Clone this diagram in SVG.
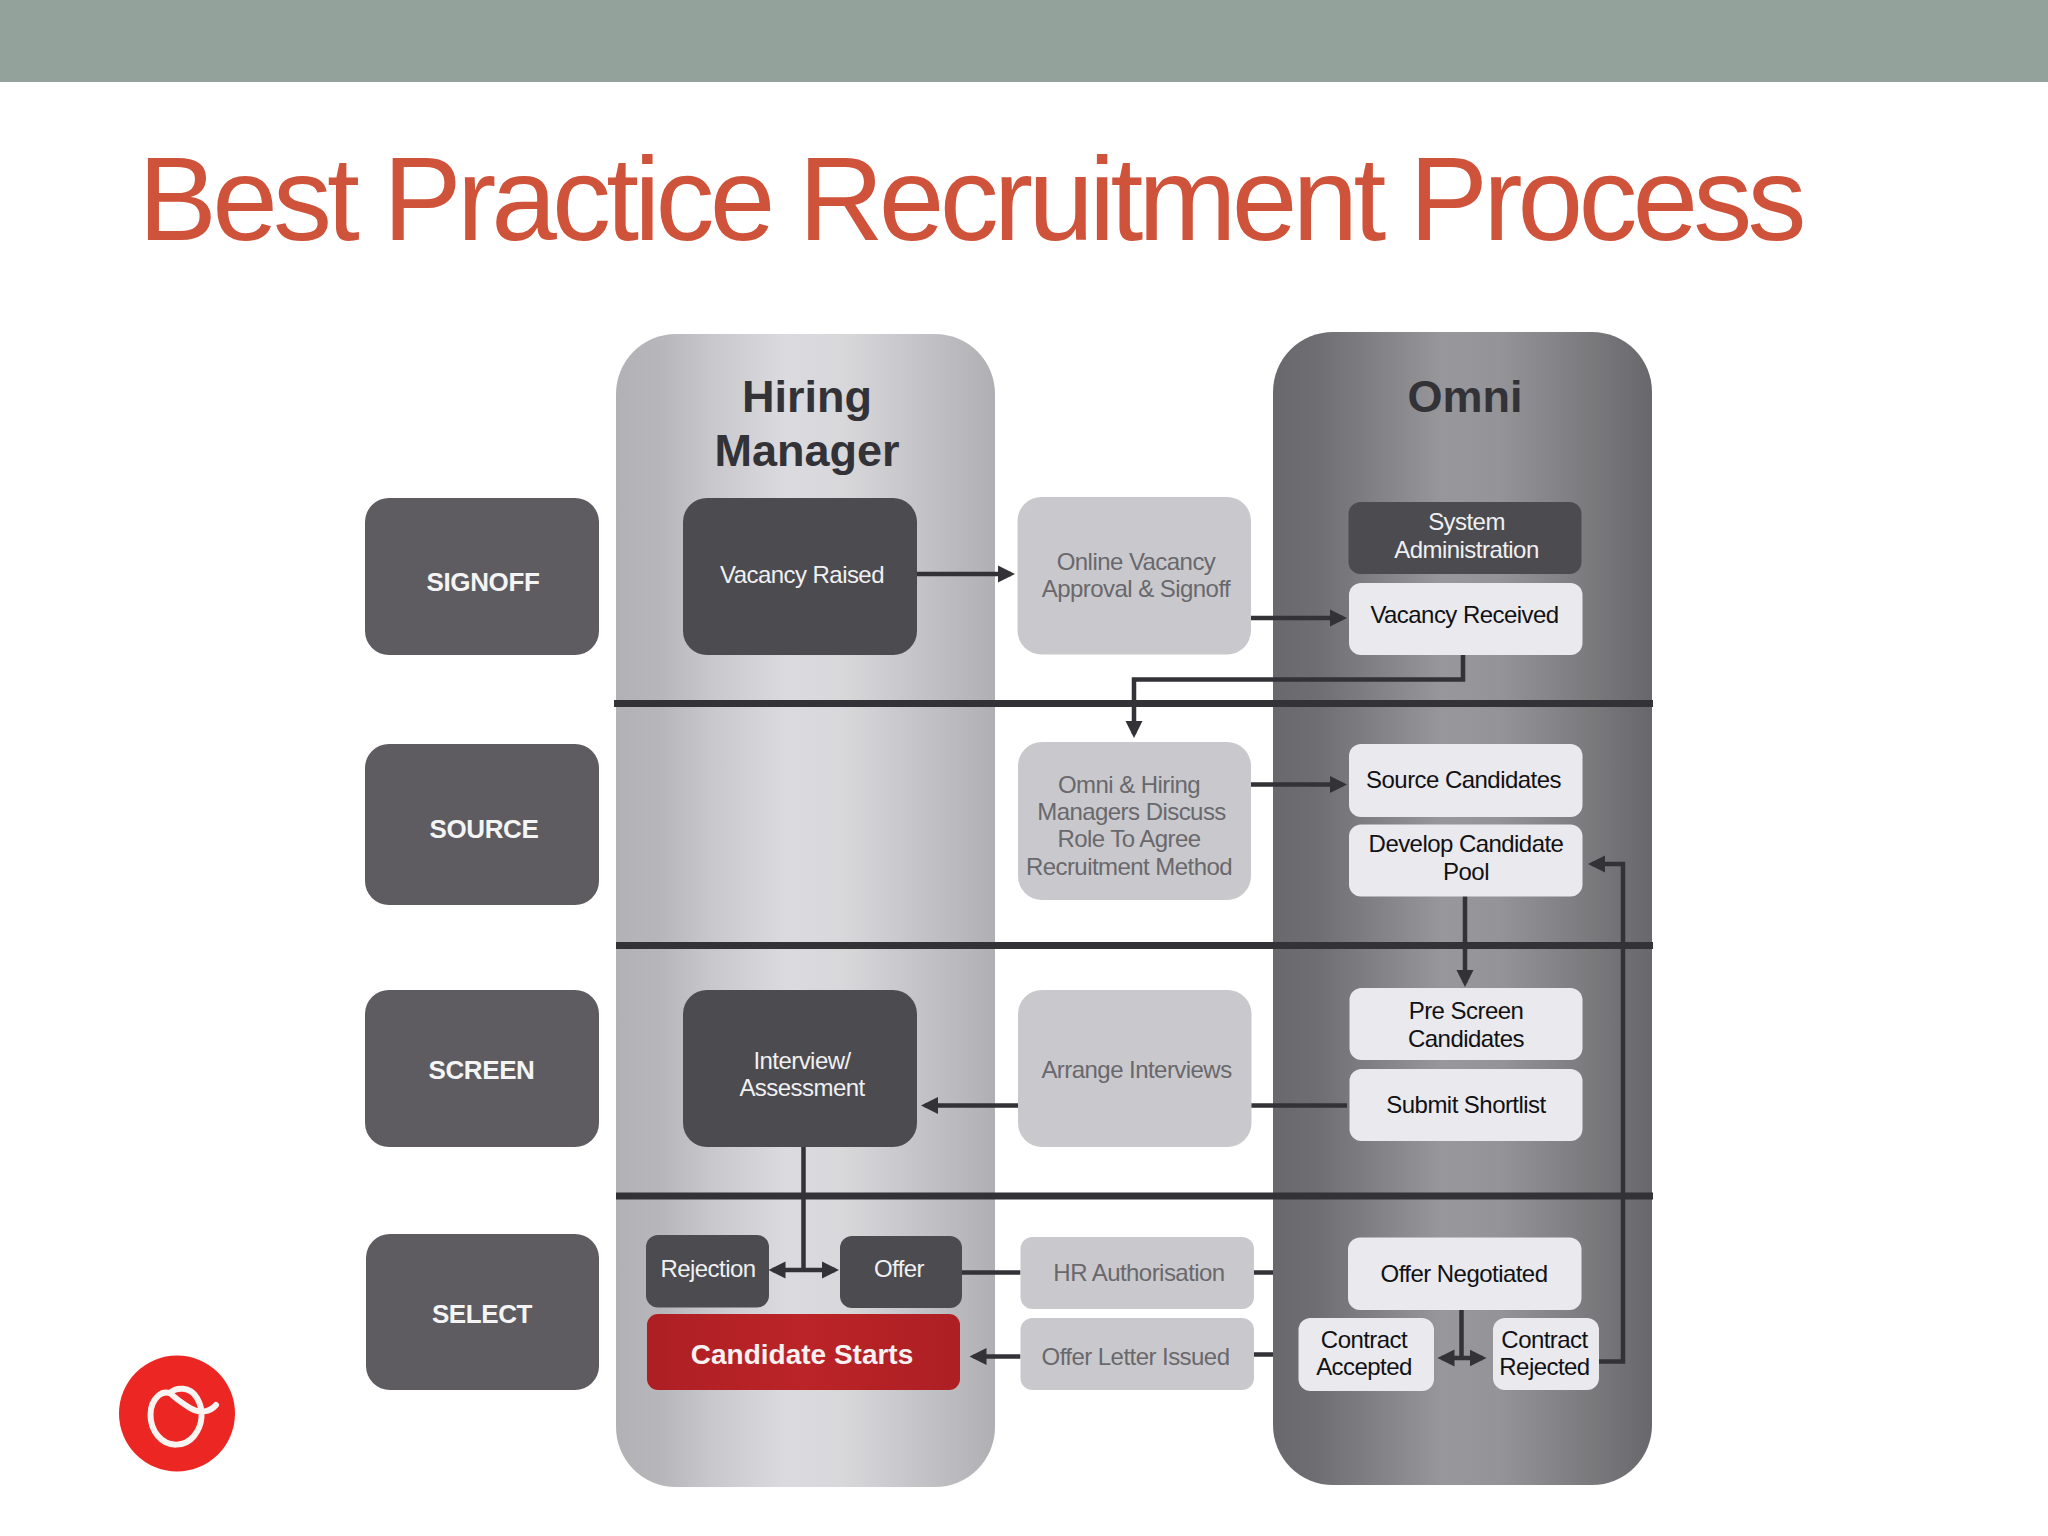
<svg xmlns="http://www.w3.org/2000/svg" width="2048" height="1536" viewBox="0 0 2048 1536">
<style>
text{font-family:"Liberation Sans",Arial,sans-serif;text-anchor:middle}
.stage rect{fill:#5e5c60}
.stage text{fill:#f4f4f5;font-size:26px;font-weight:700;letter-spacing:-.4px}
.dark rect{fill:#4c4b4f}
.dark text{fill:#f0f0f2;font-size:24px;letter-spacing:-.55px}
.mid rect{fill:#c9c8cc}
.mid text{fill:#69686c;font-size:24px;letter-spacing:-.55px}
.lite rect{fill:#eae9ed}
.lite text{fill:#111114;font-size:24px;letter-spacing:-.55px}
.head{fill:#333237;font-size:45px;font-weight:700}
.sep{stroke:#333237;stroke-width:7;fill:none}
#connectors path{stroke:#333237;stroke-width:4.5;fill:none}
</style>
<defs>
<linearGradient id="gLight" x1="0" x2="1" y1="0" y2="0">
<stop offset="0" stop-color="#b2b1b5"/><stop offset=".12" stop-color="#b7b6ba"/><stop offset=".25" stop-color="#c8c7cb"/><stop offset=".45" stop-color="#dbdade"/><stop offset=".6" stop-color="#d8d7da"/><stop offset=".85" stop-color="#bfbec2"/><stop offset="1" stop-color="#b0afb3"/>
</linearGradient>
<linearGradient id="gDark" x1="0" x2="1" y1="0" y2="0">
<stop offset="0" stop-color="#69686c"/><stop offset=".12" stop-color="#6f6e72"/><stop offset=".3" stop-color="#858488"/><stop offset=".45" stop-color="#98979b"/><stop offset=".6" stop-color="#949397"/><stop offset=".85" stop-color="#79787b"/><stop offset="1" stop-color="#68676b"/>
</linearGradient>
<linearGradient id="gRed" x1="0" x2="1" y1="0" y2="0">
<stop offset="0" stop-color="#ad1f23"/><stop offset=".5" stop-color="#bb2428"/><stop offset="1" stop-color="#ad1f23"/>
</linearGradient>
<marker id="ah" markerUnits="userSpaceOnUse" markerWidth="18" markerHeight="18" refX="13" refY="9" orient="auto-start-reverse"><path d="M0 0.500L17 9L0 17.500Z" style="fill:#333237;stroke:none"/></marker>
</defs>
<rect id="topbar" x="0" y="0" width="2048" height="82" fill="#93a29a"/>
<text id="title" x="970" y="240" font-size="118" fill="#cf523a" style="letter-spacing:-4.84px">Best Practice Recruitment Process</text>

<g id="column-hiring"><rect x="616" y="334" width="379" height="1153" rx="60" fill="url(#gLight)"/>
<text class="head" x="807" y="412">Hiring</text><text class="head" x="807" y="466">Manager</text></g>
<g id="column-omni"><rect x="1273" y="332" width="379" height="1153" rx="60" fill="url(#gDark)"/>
<text class="head" x="1465" y="412">Omni</text></g>

<g id="separators">
<path class="sep" d="M614 703.500H1653"/><path class="sep" d="M616 945.500H1653"/><path class="sep" d="M616 1196H1653"/>
</g>

<g id="connectors">
<path d="M917 574H1011" marker-end="url(#ah)"/>
<path d="M1251 618H1343" marker-end="url(#ah)"/>
<path d="M1463 655V679.500H1134V734" marker-end="url(#ah)"/>
<path d="M1251 784.500H1343" marker-end="url(#ah)"/>
<path d="M1465 896V983" marker-end="url(#ah)"/>
<path d="M1597 1361.500H1623V864H1592" marker-end="url(#ah)"/>
<path d="M1347 1105.500H1251"/>
<path d="M1018 1105.500H925" marker-end="url(#ah)"/>
<path d="M803.500 1147V1270"/>
<path d="M772.500 1270H835" marker-start="url(#ah)" marker-end="url(#ah)"/>
<path d="M962 1272.500H1020.500"/>
<path d="M1254 1272.500H1273"/>
<path d="M1020.500 1356.500H973.500" marker-end="url(#ah)"/>
<path d="M1254 1354.500H1273"/>
<path d="M1461.500 1310V1358"/>
<path d="M1441.500 1358H1482.500" marker-start="url(#ah)" marker-end="url(#ah)"/>
</g>

<g id="stage-signoff" class="stage"><rect x="365" y="498" width="234" height="157" rx="24"/><text x="483" y="591">SIGNOFF</text></g>
<g id="stage-source" class="stage"><rect x="365" y="744" width="234" height="161" rx="24"/><text x="484" y="838">SOURCE</text></g>
<g id="stage-screen" class="stage"><rect x="365" y="990" width="234" height="157" rx="24"/><text x="481.500" y="1079">SCREEN</text></g>
<g id="stage-select" class="stage"><rect x="366" y="1234" width="233" height="156" rx="24"/><text x="482" y="1322.500">SELECT</text></g>

<g id="vacancy-raised" class="dark"><rect x="683" y="498" width="234" height="157" rx="24"/><text x="802" y="583">Vacancy Raised</text></g>
<g id="interview" class="dark"><rect x="683" y="990" width="234" height="157" rx="24"/><text x="802" y="1069">Interview/</text><text x="802" y="1096">Assessment</text></g>
<g id="rejection" class="dark"><rect x="646" y="1235" width="123" height="72.500" rx="12"/><text x="708" y="1277">Rejection</text></g>
<g id="offer" class="dark"><rect x="840" y="1236" width="122" height="72" rx="12"/><text x="899" y="1277">Offer</text></g>
<g id="candidate-starts"><rect x="647" y="1314" width="313" height="76" rx="11" fill="url(#gRed)"/><text x="802" y="1364" font-size="28" font-weight="700" fill="#f7f1f1">Candidate Starts</text></g>

<g id="online-vacancy" class="mid"><rect x="1017.500" y="497" width="233.500" height="157.500" rx="24"/><text x="1136" y="570">Online Vacancy</text><text x="1136" y="597">Approval &amp; Signoff</text></g>
<g id="omni-hiring-discuss" class="mid"><rect x="1018" y="742" width="233" height="158" rx="24"/><text x="1129" y="793">Omni &amp; Hiring</text><text x="1131.500" y="820">Managers Discuss</text><text x="1129" y="847">Role To Agree</text><text x="1129" y="875">Recruitment Method</text></g>
<g id="arrange-interviews" class="mid"><rect x="1018" y="990" width="233.500" height="157" rx="24"/><text x="1136.500" y="1077.500">Arrange Interviews</text></g>
<g id="hr-authorisation" class="mid"><rect x="1020.500" y="1237" width="233.500" height="72" rx="12"/><text x="1139" y="1281">HR Authorisation</text></g>
<g id="offer-letter" class="mid"><rect x="1020.500" y="1318" width="233.500" height="72" rx="12"/><text x="1135.500" y="1365">Offer Letter Issued</text></g>

<g id="system-administration" class="dark"><rect x="1348.500" y="502" width="233" height="72" rx="12"/><text x="1466.500" y="530">System</text><text x="1466.500" y="557.500">Administration</text></g>
<g id="vacancy-received" class="lite"><rect x="1349" y="583" width="233.500" height="72" rx="12"/><text x="1464.500" y="622.500">Vacancy Received</text></g>
<g id="source-candidates" class="lite"><rect x="1349" y="744" width="233.500" height="73" rx="12"/><text x="1463.500" y="788">Source Candidates</text></g>
<g id="develop-pool" class="lite"><rect x="1349" y="824.500" width="233.500" height="72" rx="12"/><text x="1466" y="852">Develop Candidate</text><text x="1466" y="879.500">Pool</text></g>
<g id="pre-screen" class="lite"><rect x="1349.500" y="988" width="233" height="72" rx="12"/><text x="1466" y="1018.500">Pre Screen</text><text x="1466" y="1046.500">Candidates</text></g>
<g id="submit-shortlist" class="lite"><rect x="1349.500" y="1069" width="233" height="72" rx="12"/><text x="1466" y="1112.500">Submit Shortlist</text></g>
<g id="offer-negotiated" class="lite"><rect x="1348" y="1237.500" width="233.500" height="72.500" rx="12"/><text x="1464" y="1282">Offer Negotiated</text></g>
<g id="contract-accepted" class="lite"><rect x="1298.500" y="1318" width="135.500" height="73" rx="12"/><text x="1364" y="1347.500">Contract</text><text x="1364" y="1375">Accepted</text></g>
<g id="contract-rejected" class="lite"><rect x="1493" y="1318" width="106" height="72" rx="12"/><text x="1544.500" y="1347.500">Contract</text><text x="1544.500" y="1375">Rejected</text></g>

<g id="logo"><circle cx="177" cy="1413.500" r="58" fill="#ec2622"/>
<path d="M216 1405C210 1412 200 1414 190 1408C182 1403 175 1398 170 1393C176 1387 190 1386 197 1398C204 1410 203 1425 194 1436C185 1447 168 1448 158 1436C148 1424 148 1405 158 1396C162 1392 166 1392 170 1393" fill="none" stroke="#f8f4f2" stroke-width="6" stroke-linecap="round" stroke-linejoin="round"/></g>
</svg>
